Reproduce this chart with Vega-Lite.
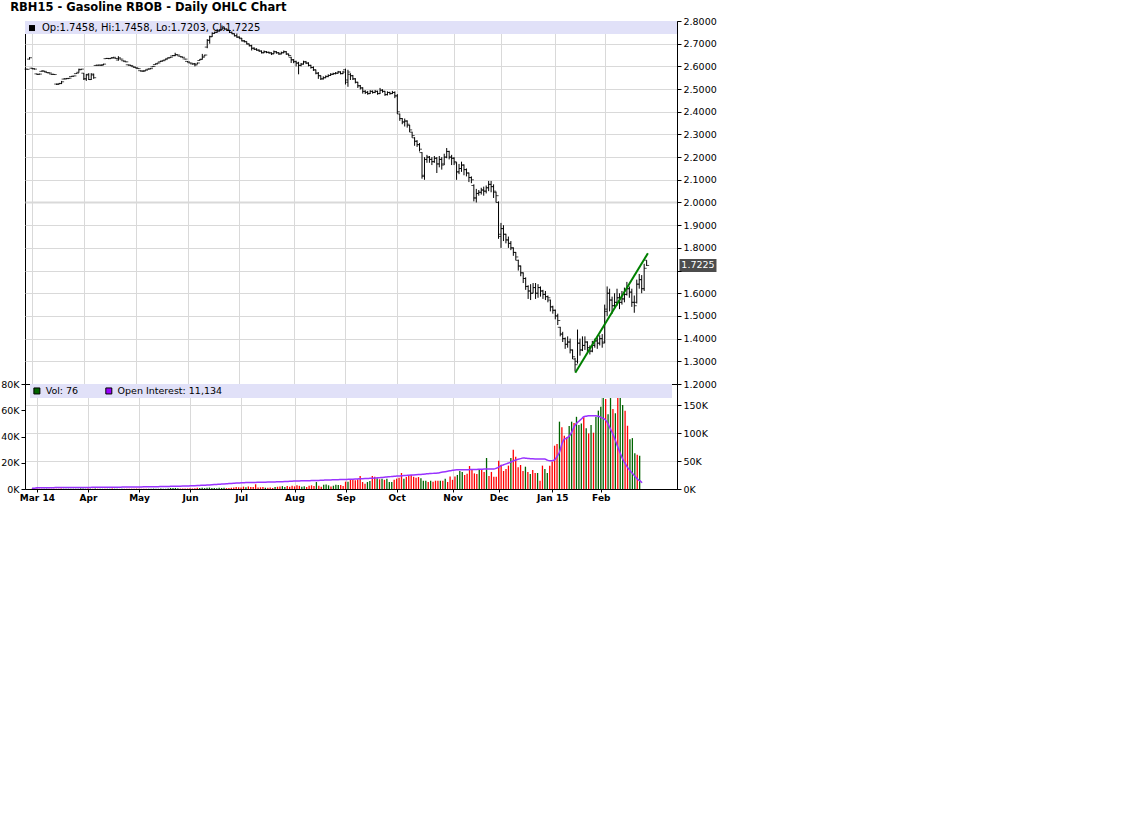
{
"$schema": "https://vega.github.io/schema/vega-lite/v6.json",
"background": "white",
"padding": {"left": 0, "top": 2, "right": 0, "bottom": 0},
"title": {"text": "RBH15 - Gasoline RBOB - Daily OHLC Chart", "anchor": "start", "font": "DejaVu Sans", "fontSize": 11.5, "fontWeight": "bold", "color": "black", "dx": 10, "offset": 2},
"spacing": 0,
"bounds": "flush",
"datasets": {
"px": [
{"t":-2,"o":2.588,"h":2.590,"l":2.585,"c":2.587,"v":200,"oi":1500,"dir":"down"},
{"t":-1,"o":2.632,"h":2.641,"l":2.630,"c":2.638,"v":150,"oi":1550,"dir":"up"},
{"t":0,"o":2.592,"h":2.594,"l":2.588,"c":2.590,"v":300,"oi":2300,"dir":"down"},
{"t":1,"o":2.589,"h":2.591,"l":2.586,"c":2.588,"v":100,"oi":2300,"dir":"down"},
{"t":2,"o":2.567,"h":2.568,"l":2.563,"c":2.565,"v":200,"oi":2350,"dir":"down"},
{"t":3,"o":2.565,"h":2.568,"l":2.564,"c":2.566,"v":150,"oi":2350,"dir":"up"},
{"t":4,"o":2.578,"h":2.582,"l":2.577,"c":2.580,"v":250,"oi":2400,"dir":"up"},
{"t":5,"o":2.579,"h":2.580,"l":2.576,"c":2.578,"v":100,"oi":2400,"dir":"down"},
{"t":6,"o":2.574,"h":2.575,"l":2.571,"c":2.572,"v":150,"oi":2450,"dir":"down"},
{"t":7,"o":2.572,"h":2.573,"l":2.569,"c":2.571,"v":100,"oi":2450,"dir":"down"},
{"t":8,"o":2.566,"h":2.567,"l":2.563,"c":2.565,"v":200,"oi":2500,"dir":"down"},
{"t":9,"o":2.565,"h":2.566,"l":2.562,"c":2.564,"v":100,"oi":2500,"dir":"down"},
{"t":10,"o":2.522,"h":2.524,"l":2.518,"c":2.520,"v":300,"oi":2550,"dir":"down"},
{"t":11,"o":2.523,"h":2.527,"l":2.521,"c":2.525,"v":200,"oi":2600,"dir":"up"},
{"t":12,"o":2.524,"h":2.536,"l":2.522,"c":2.532,"v":250,"oi":2600,"dir":"up"},
{"t":13,"o":2.544,"h":2.547,"l":2.543,"c":2.545,"v":200,"oi":2650,"dir":"up"},
{"t":14,"o":2.545,"h":2.548,"l":2.544,"c":2.546,"v":150,"oi":2650,"dir":"up"},
{"t":15,"o":2.547,"h":2.549,"l":2.545,"c":2.548,"v":100,"oi":2700,"dir":"up"},
{"t":16,"o":2.555,"h":2.557,"l":2.554,"c":2.556,"v":150,"oi":2700,"dir":"up"},
{"t":17,"o":2.557,"h":2.559,"l":2.556,"c":2.558,"v":200,"oi":2750,"dir":"up"},
{"t":18,"o":2.568,"h":2.571,"l":2.567,"c":2.570,"v":500,"oi":2800,"dir":"up"},
{"t":19,"o":2.574,"h":2.590,"l":2.572,"c":2.585,"v":300,"oi":2800,"dir":"up"},
{"t":20,"o":2.587,"h":2.589,"l":2.585,"c":2.588,"v":200,"oi":2850,"dir":"up"},
{"t":21,"o":2.570,"h":2.571,"l":2.540,"c":2.545,"v":300,"oi":2900,"dir":"down"},
{"t":22,"o":2.545,"h":2.566,"l":2.536,"c":2.562,"v":250,"oi":2900,"dir":"up"},
{"t":23,"o":2.565,"h":2.570,"l":2.540,"c":2.542,"v":200,"oi":2950,"dir":"down"},
{"t":24,"o":2.542,"h":2.570,"l":2.540,"c":2.566,"v":300,"oi":3000,"dir":"up"},
{"t":25,"o":2.562,"h":2.568,"l":2.545,"c":2.550,"v":200,"oi":3000,"dir":"down"},
{"t":26,"o":2.604,"h":2.607,"l":2.603,"c":2.605,"v":250,"oi":3050,"dir":"up"},
{"t":27,"o":2.605,"h":2.607,"l":2.604,"c":2.606,"v":150,"oi":3100,"dir":"up"},
{"t":28,"o":2.605,"h":2.606,"l":2.602,"c":2.604,"v":100,"oi":3100,"dir":"down"},
{"t":29,"o":2.608,"h":2.612,"l":2.606,"c":2.610,"v":200,"oi":3150,"dir":"up"},
{"t":30,"o":2.634,"h":2.637,"l":2.633,"c":2.635,"v":250,"oi":3200,"dir":"up"},
{"t":31,"o":2.635,"h":2.636,"l":2.632,"c":2.634,"v":300,"oi":3200,"dir":"down"},
{"t":32,"o":2.635,"h":2.638,"l":2.634,"c":2.636,"v":150,"oi":3250,"dir":"up"},
{"t":33,"o":2.639,"h":2.642,"l":2.638,"c":2.640,"v":200,"oi":3300,"dir":"up"},
{"t":34,"o":2.636,"h":2.637,"l":2.633,"c":2.635,"v":100,"oi":3300,"dir":"down"},
{"t":35,"o":2.628,"h":2.645,"l":2.625,"c":2.638,"v":250,"oi":3350,"dir":"up"},
{"t":36,"o":2.633,"h":2.634,"l":2.630,"c":2.632,"v":150,"oi":3400,"dir":"down"},
{"t":37,"o":2.625,"h":2.626,"l":2.622,"c":2.624,"v":200,"oi":3450,"dir":"down"},
{"t":38,"o":2.621,"h":2.622,"l":2.618,"c":2.620,"v":100,"oi":3500,"dir":"down"},
{"t":39,"o":2.607,"h":2.608,"l":2.604,"c":2.606,"v":200,"oi":3550,"dir":"down"},
{"t":40,"o":2.605,"h":2.606,"l":2.602,"c":2.604,"v":150,"oi":3600,"dir":"down"},
{"t":41,"o":2.599,"h":2.600,"l":2.596,"c":2.598,"v":300,"oi":3650,"dir":"down"},
{"t":42,"o":2.595,"h":2.596,"l":2.592,"c":2.594,"v":200,"oi":3700,"dir":"down"},
{"t":43,"o":2.591,"h":2.592,"l":2.588,"c":2.590,"v":150,"oi":3750,"dir":"down"},
{"t":44,"o":2.581,"h":2.582,"l":2.578,"c":2.580,"v":250,"oi":3800,"dir":"down"},
{"t":45,"o":2.579,"h":2.580,"l":2.576,"c":2.578,"v":200,"oi":3850,"dir":"down"},
{"t":46,"o":2.582,"h":2.585,"l":2.581,"c":2.583,"v":150,"oi":3900,"dir":"up"},
{"t":47,"o":2.587,"h":2.590,"l":2.586,"c":2.588,"v":200,"oi":3950,"dir":"up"},
{"t":48,"o":2.589,"h":2.592,"l":2.588,"c":2.590,"v":300,"oi":4000,"dir":"up"},
{"t":49,"o":2.598,"h":2.602,"l":2.597,"c":2.600,"v":250,"oi":4100,"dir":"up"},
{"t":50,"o":2.608,"h":2.612,"l":2.607,"c":2.610,"v":200,"oi":4200,"dir":"up"},
{"t":51,"o":2.613,"h":2.617,"l":2.612,"c":2.615,"v":300,"oi":4300,"dir":"up"},
{"t":52,"o":2.620,"h":2.624,"l":2.619,"c":2.622,"v":250,"oi":4400,"dir":"up"},
{"t":53,"o":2.624,"h":2.627,"l":2.623,"c":2.625,"v":200,"oi":4500,"dir":"up"},
{"t":54,"o":2.628,"h":2.632,"l":2.627,"c":2.630,"v":300,"oi":4600,"dir":"up"},
{"t":55,"o":2.635,"h":2.639,"l":2.634,"c":2.637,"v":800,"oi":4700,"dir":"up"},
{"t":56,"o":2.638,"h":2.642,"l":2.637,"c":2.640,"v":700,"oi":4800,"dir":"up"},
{"t":57,"o":2.646,"h":2.650,"l":2.645,"c":2.648,"v":800,"oi":4900,"dir":"up"},
{"t":58,"o":2.647,"h":2.660,"l":2.645,"c":2.652,"v":600,"oi":5000,"dir":"up"},
{"t":59,"o":2.651,"h":2.652,"l":2.648,"c":2.650,"v":400,"oi":5100,"dir":"down"},
{"t":60,"o":2.645,"h":2.646,"l":2.642,"c":2.643,"v":300,"oi":5200,"dir":"down"},
{"t":61,"o":2.641,"h":2.642,"l":2.638,"c":2.640,"v":300,"oi":5300,"dir":"down"},
{"t":62,"o":2.633,"h":2.634,"l":2.630,"c":2.632,"v":400,"oi":5400,"dir":"down"},
{"t":63,"o":2.622,"h":2.623,"l":2.618,"c":2.620,"v":500,"oi":5600,"dir":"down"},
{"t":64,"o":2.616,"h":2.617,"l":2.613,"c":2.615,"v":400,"oi":5800,"dir":"down"},
{"t":65,"o":2.611,"h":2.612,"l":2.608,"c":2.610,"v":600,"oi":6000,"dir":"down"},
{"t":66,"o":2.612,"h":2.615,"l":2.600,"c":2.606,"v":900,"oi":6200,"dir":"down"},
{"t":67,"o":2.610,"h":2.617,"l":2.609,"c":2.615,"v":800,"oi":6400,"dir":"up"},
{"t":68,"o":2.626,"h":2.632,"l":2.625,"c":2.630,"v":1000,"oi":6600,"dir":"up"},
{"t":69,"o":2.632,"h":2.655,"l":2.630,"c":2.640,"v":700,"oi":6800,"dir":"up"},
{"t":70,"o":2.645,"h":2.652,"l":2.644,"c":2.650,"v":900,"oi":7000,"dir":"up"},
{"t":71,"o":2.685,"h":2.720,"l":2.680,"c":2.715,"v":1100,"oi":7300,"dir":"up"},
{"t":72,"o":2.715,"h":2.735,"l":2.700,"c":2.730,"v":800,"oi":7600,"dir":"up"},
{"t":73,"o":2.732,"h":2.750,"l":2.730,"c":2.745,"v":700,"oi":7900,"dir":"up"},
{"t":74,"o":2.746,"h":2.753,"l":2.744,"c":2.750,"v":600,"oi":8200,"dir":"up"},
{"t":75,"o":2.750,"h":2.765,"l":2.748,"c":2.755,"v":900,"oi":8500,"dir":"up"},
{"t":76,"o":2.757,"h":2.763,"l":2.754,"c":2.760,"v":800,"oi":8800,"dir":"up"},
{"t":77,"o":2.762,"h":2.780,"l":2.760,"c":2.770,"v":1000,"oi":9100,"dir":"up"},
{"t":78,"o":2.768,"h":2.772,"l":2.762,"c":2.765,"v":700,"oi":9400,"dir":"down"},
{"t":79,"o":2.764,"h":2.766,"l":2.756,"c":2.760,"v":800,"oi":9700,"dir":"down"},
{"t":80,"o":2.758,"h":2.760,"l":2.747,"c":2.750,"v":900,"oi":10000,"dir":"down"},
{"t":81,"o":2.750,"h":2.753,"l":2.742,"c":2.745,"v":1200,"oi":10300,"dir":"down"},
{"t":82,"o":2.743,"h":2.745,"l":2.732,"c":2.735,"v":1500,"oi":10600,"dir":"down"},
{"t":83,"o":2.735,"h":2.745,"l":2.726,"c":2.730,"v":1300,"oi":10800,"dir":"down"},
{"t":84,"o":2.728,"h":2.732,"l":2.722,"c":2.725,"v":1100,"oi":11000,"dir":"down"},
{"t":85,"o":2.722,"h":2.725,"l":2.710,"c":2.712,"v":1800,"oi":11200,"dir":"down"},
{"t":86,"o":2.713,"h":2.716,"l":2.706,"c":2.710,"v":1400,"oi":11400,"dir":"up"},
{"t":87,"o":2.708,"h":2.710,"l":2.697,"c":2.700,"v":2000,"oi":11500,"dir":"down"},
{"t":88,"o":2.698,"h":2.700,"l":2.688,"c":2.690,"v":1500,"oi":11600,"dir":"down"},
{"t":89,"o":2.692,"h":2.695,"l":2.670,"c":2.680,"v":1600,"oi":11700,"dir":"down"},
{"t":90,"o":2.680,"h":2.684,"l":2.672,"c":2.675,"v":3600,"oi":11800,"dir":"down"},
{"t":91,"o":2.676,"h":2.680,"l":2.669,"c":2.672,"v":1200,"oi":11900,"dir":"down"},
{"t":92,"o":2.671,"h":2.675,"l":2.664,"c":2.668,"v":1300,"oi":12000,"dir":"down"},
{"t":93,"o":2.667,"h":2.670,"l":2.657,"c":2.660,"v":1500,"oi":12100,"dir":"down"},
{"t":94,"o":2.660,"h":2.670,"l":2.658,"c":2.665,"v":1000,"oi":12200,"dir":"up"},
{"t":95,"o":2.664,"h":2.667,"l":2.658,"c":2.662,"v":900,"oi":12300,"dir":"down"},
{"t":96,"o":2.662,"h":2.665,"l":2.656,"c":2.660,"v":1200,"oi":12400,"dir":"down"},
{"t":97,"o":2.659,"h":2.662,"l":2.650,"c":2.655,"v":800,"oi":12500,"dir":"down"},
{"t":98,"o":2.656,"h":2.670,"l":2.654,"c":2.665,"v":1500,"oi":12700,"dir":"up"},
{"t":99,"o":2.664,"h":2.667,"l":2.656,"c":2.660,"v":1700,"oi":12800,"dir":"down"},
{"t":100,"o":2.660,"h":2.663,"l":2.651,"c":2.655,"v":2000,"oi":12900,"dir":"down"},
{"t":101,"o":2.655,"h":2.665,"l":2.653,"c":2.660,"v":2200,"oi":13100,"dir":"up"},
{"t":102,"o":2.660,"h":2.670,"l":2.658,"c":2.665,"v":1500,"oi":13300,"dir":"up"},
{"t":103,"o":2.664,"h":2.667,"l":2.651,"c":2.655,"v":2300,"oi":13500,"dir":"down"},
{"t":104,"o":2.654,"h":2.656,"l":2.644,"c":2.648,"v":1800,"oi":13700,"dir":"down"},
{"t":105,"o":2.640,"h":2.642,"l":2.615,"c":2.630,"v":2500,"oi":14000,"dir":"down"},
{"t":106,"o":2.628,"h":2.632,"l":2.614,"c":2.620,"v":2000,"oi":14200,"dir":"down"},
{"t":107,"o":2.622,"h":2.625,"l":2.600,"c":2.615,"v":2800,"oi":14400,"dir":"down"},
{"t":108,"o":2.614,"h":2.620,"l":2.565,"c":2.605,"v":2400,"oi":14500,"dir":"down"},
{"t":109,"o":2.604,"h":2.615,"l":2.600,"c":2.610,"v":1800,"oi":14600,"dir":"up"},
{"t":110,"o":2.610,"h":2.625,"l":2.608,"c":2.620,"v":2100,"oi":14700,"dir":"up"},
{"t":111,"o":2.620,"h":2.624,"l":2.610,"c":2.615,"v":1600,"oi":14800,"dir":"down"},
{"t":112,"o":2.614,"h":2.618,"l":2.600,"c":2.605,"v":2500,"oi":14900,"dir":"down"},
{"t":113,"o":2.604,"h":2.607,"l":2.590,"c":2.595,"v":2800,"oi":15000,"dir":"down"},
{"t":114,"o":2.595,"h":2.600,"l":2.580,"c":2.585,"v":2200,"oi":15200,"dir":"down"},
{"t":115,"o":2.584,"h":2.586,"l":2.565,"c":2.570,"v":5300,"oi":15300,"dir":"up"},
{"t":116,"o":2.570,"h":2.575,"l":2.545,"c":2.560,"v":2500,"oi":15400,"dir":"down"},
{"t":117,"o":2.558,"h":2.560,"l":2.540,"c":2.545,"v":1800,"oi":15600,"dir":"down"},
{"t":118,"o":2.545,"h":2.556,"l":2.542,"c":2.550,"v":3200,"oi":15800,"dir":"up"},
{"t":119,"o":2.550,"h":2.560,"l":2.548,"c":2.555,"v":3500,"oi":16000,"dir":"up"},
{"t":120,"o":2.556,"h":2.565,"l":2.552,"c":2.560,"v":2800,"oi":16100,"dir":"up"},
{"t":121,"o":2.560,"h":2.570,"l":2.558,"c":2.565,"v":2000,"oi":16200,"dir":"down"},
{"t":122,"o":2.565,"h":2.572,"l":2.562,"c":2.568,"v":2500,"oi":16400,"dir":"up"},
{"t":123,"o":2.568,"h":2.575,"l":2.565,"c":2.570,"v":3200,"oi":16500,"dir":"up"},
{"t":124,"o":2.570,"h":2.580,"l":2.568,"c":2.575,"v":3000,"oi":16700,"dir":"up"},
{"t":125,"o":2.576,"h":2.578,"l":2.565,"c":2.568,"v":3000,"oi":16800,"dir":"down"},
{"t":126,"o":2.568,"h":2.580,"l":2.566,"c":2.575,"v":2300,"oi":16900,"dir":"down"},
{"t":127,"o":2.585,"h":2.590,"l":2.520,"c":2.530,"v":5600,"oi":17000,"dir":"down"},
{"t":128,"o":2.540,"h":2.585,"l":2.510,"c":2.575,"v":5600,"oi":17200,"dir":"up"},
{"t":129,"o":2.565,"h":2.570,"l":2.540,"c":2.560,"v":7400,"oi":17400,"dir":"down"},
{"t":130,"o":2.558,"h":2.562,"l":2.540,"c":2.545,"v":7400,"oi":17600,"dir":"down"},
{"t":131,"o":2.545,"h":2.548,"l":2.525,"c":2.530,"v":6600,"oi":17800,"dir":"down"},
{"t":132,"o":2.530,"h":2.532,"l":2.505,"c":2.515,"v":7400,"oi":18000,"dir":"down"},
{"t":133,"o":2.514,"h":2.518,"l":2.498,"c":2.505,"v":9900,"oi":18200,"dir":"down"},
{"t":134,"o":2.505,"h":2.508,"l":2.480,"c":2.490,"v":5300,"oi":18400,"dir":"down"},
{"t":135,"o":2.490,"h":2.495,"l":2.478,"c":2.485,"v":4000,"oi":18600,"dir":"down"},
{"t":136,"o":2.486,"h":2.492,"l":2.475,"c":2.480,"v":5300,"oi":18800,"dir":"up"},
{"t":137,"o":2.480,"h":2.495,"l":2.478,"c":2.490,"v":6100,"oi":19000,"dir":"up"},
{"t":138,"o":2.490,"h":2.494,"l":2.480,"c":2.485,"v":9900,"oi":19200,"dir":"down"},
{"t":139,"o":2.485,"h":2.496,"l":2.482,"c":2.490,"v":9300,"oi":19500,"dir":"down"},
{"t":140,"o":2.490,"h":2.493,"l":2.475,"c":2.480,"v":8100,"oi":19900,"dir":"up"},
{"t":141,"o":2.480,"h":2.505,"l":2.478,"c":2.495,"v":7400,"oi":20300,"dir":"down"},
{"t":142,"o":2.495,"h":2.499,"l":2.484,"c":2.490,"v":7900,"oi":20700,"dir":"up"},
{"t":143,"o":2.490,"h":2.492,"l":2.470,"c":2.475,"v":7000,"oi":21100,"dir":"down"},
{"t":144,"o":2.476,"h":2.490,"l":2.472,"c":2.485,"v":7900,"oi":21500,"dir":"up"},
{"t":145,"o":2.485,"h":2.488,"l":2.475,"c":2.480,"v":5300,"oi":21900,"dir":"up"},
{"t":146,"o":2.480,"h":2.492,"l":2.478,"c":2.485,"v":5300,"oi":22300,"dir":"up"},
{"t":147,"o":2.485,"h":2.490,"l":2.460,"c":2.470,"v":7000,"oi":22700,"dir":"down"},
{"t":148,"o":2.470,"h":2.478,"l":2.390,"c":2.400,"v":7900,"oi":23000,"dir":"down"},
{"t":149,"o":2.390,"h":2.392,"l":2.360,"c":2.370,"v":8600,"oi":23300,"dir":"down"},
{"t":150,"o":2.370,"h":2.372,"l":2.345,"c":2.355,"v":12200,"oi":23600,"dir":"down"},
{"t":151,"o":2.355,"h":2.370,"l":2.335,"c":2.360,"v":7900,"oi":24000,"dir":"up"},
{"t":152,"o":2.358,"h":2.362,"l":2.330,"c":2.345,"v":9100,"oi":24300,"dir":"down"},
{"t":153,"o":2.340,"h":2.342,"l":2.310,"c":2.320,"v":9900,"oi":24600,"dir":"down"},
{"t":154,"o":2.310,"h":2.312,"l":2.285,"c":2.295,"v":10700,"oi":24900,"dir":"down"},
{"t":155,"o":2.285,"h":2.288,"l":2.250,"c":2.270,"v":9300,"oi":25200,"dir":"down"},
{"t":156,"o":2.270,"h":2.275,"l":2.245,"c":2.255,"v":8600,"oi":25500,"dir":"down"},
{"t":157,"o":2.255,"h":2.262,"l":2.225,"c":2.235,"v":9100,"oi":25800,"dir":"down"},
{"t":158,"o":2.220,"h":2.222,"l":2.105,"c":2.120,"v":8100,"oi":26100,"dir":"up"},
{"t":159,"o":2.115,"h":2.200,"l":2.100,"c":2.190,"v":6300,"oi":26500,"dir":"up"},
{"t":160,"o":2.190,"h":2.210,"l":2.175,"c":2.200,"v":6300,"oi":26900,"dir":"up"},
{"t":161,"o":2.200,"h":2.205,"l":2.175,"c":2.190,"v":5300,"oi":27300,"dir":"down"},
{"t":162,"o":2.190,"h":2.200,"l":2.165,"c":2.180,"v":6300,"oi":27600,"dir":"up"},
{"t":163,"o":2.180,"h":2.205,"l":2.175,"c":2.195,"v":5600,"oi":27900,"dir":"down"},
{"t":164,"o":2.195,"h":2.200,"l":2.130,"c":2.170,"v":6300,"oi":28200,"dir":"down"},
{"t":165,"o":2.170,"h":2.205,"l":2.155,"c":2.190,"v":6300,"oi":28600,"dir":"down"},
{"t":166,"o":2.190,"h":2.200,"l":2.145,"c":2.165,"v":6300,"oi":29400,"dir":"up"},
{"t":167,"o":2.170,"h":2.215,"l":2.165,"c":2.200,"v":6300,"oi":30200,"dir":"down"},
{"t":168,"o":2.200,"h":2.240,"l":2.195,"c":2.225,"v":7900,"oi":31000,"dir":"up"},
{"t":169,"o":2.225,"h":2.228,"l":2.190,"c":2.200,"v":5300,"oi":31800,"dir":"down"},
{"t":170,"o":2.200,"h":2.210,"l":2.165,"c":2.195,"v":9600,"oi":32600,"dir":"down"},
{"t":171,"o":2.195,"h":2.200,"l":2.165,"c":2.180,"v":7000,"oi":33300,"dir":"down"},
{"t":172,"o":2.175,"h":2.178,"l":2.100,"c":2.135,"v":9600,"oi":34000,"dir":"down"},
{"t":173,"o":2.135,"h":2.170,"l":2.125,"c":2.150,"v":10700,"oi":34200,"dir":"up"},
{"t":174,"o":2.150,"h":2.180,"l":2.135,"c":2.165,"v":13700,"oi":34300,"dir":"up"},
{"t":175,"o":2.165,"h":2.168,"l":2.120,"c":2.145,"v":12900,"oi":34400,"dir":"up"},
{"t":176,"o":2.145,"h":2.150,"l":2.115,"c":2.130,"v":10700,"oi":34500,"dir":"down"},
{"t":177,"o":2.130,"h":2.132,"l":2.090,"c":2.110,"v":11700,"oi":34500,"dir":"down"},
{"t":178,"o":2.110,"h":2.115,"l":2.085,"c":2.100,"v":17500,"oi":34600,"dir":"down"},
{"t":179,"o":2.075,"h":2.080,"l":2.005,"c":2.020,"v":14700,"oi":34700,"dir":"down"},
{"t":180,"o":2.020,"h":2.060,"l":2.000,"c":2.040,"v":11900,"oi":34800,"dir":"down"},
{"t":181,"o":2.040,"h":2.055,"l":2.030,"c":2.045,"v":11400,"oi":35000,"dir":"down"},
{"t":182,"o":2.045,"h":2.065,"l":2.035,"c":2.055,"v":15200,"oi":35200,"dir":"up"},
{"t":183,"o":2.055,"h":2.070,"l":2.030,"c":2.050,"v":14500,"oi":35400,"dir":"down"},
{"t":184,"o":2.050,"h":2.075,"l":2.040,"c":2.065,"v":13000,"oi":35600,"dir":"down"},
{"t":185,"o":2.065,"h":2.095,"l":2.050,"c":2.080,"v":23600,"oi":35700,"dir":"up"},
{"t":186,"o":2.080,"h":2.095,"l":2.045,"c":2.070,"v":10000,"oi":35700,"dir":"down"},
{"t":187,"o":2.070,"h":2.080,"l":2.020,"c":2.050,"v":13000,"oi":35700,"dir":"down"},
{"t":188,"o":2.045,"h":2.048,"l":2.000,"c":2.030,"v":9400,"oi":35800,"dir":"down"},
{"t":189,"o":2.000,"h":2.005,"l":1.840,"c":1.850,"v":9400,"oi":37000,"dir":"down"},
{"t":190,"o":1.860,"h":1.910,"l":1.800,"c":1.885,"v":21600,"oi":39000,"dir":"down"},
{"t":191,"o":1.885,"h":1.900,"l":1.830,"c":1.860,"v":18500,"oi":41600,"dir":"down"},
{"t":192,"o":1.860,"h":1.862,"l":1.820,"c":1.835,"v":13700,"oi":43200,"dir":"down"},
{"t":193,"o":1.835,"h":1.850,"l":1.800,"c":1.820,"v":15200,"oi":44800,"dir":"down"},
{"t":194,"o":1.820,"h":1.830,"l":1.790,"c":1.800,"v":17800,"oi":46400,"dir":"down"},
{"t":195,"o":1.800,"h":1.802,"l":1.765,"c":1.780,"v":23600,"oi":48200,"dir":"up"},
{"t":196,"o":1.780,"h":1.782,"l":1.745,"c":1.760,"v":30000,"oi":50000,"dir":"down"},
{"t":197,"o":1.745,"h":1.748,"l":1.700,"c":1.720,"v":24600,"oi":51800,"dir":"down"},
{"t":198,"o":1.720,"h":1.722,"l":1.675,"c":1.690,"v":16500,"oi":53000,"dir":"down"},
{"t":199,"o":1.690,"h":1.692,"l":1.645,"c":1.665,"v":18300,"oi":54200,"dir":"down"},
{"t":200,"o":1.665,"h":1.670,"l":1.615,"c":1.630,"v":13700,"oi":55400,"dir":"down"},
{"t":201,"o":1.630,"h":1.635,"l":1.575,"c":1.610,"v":17000,"oi":55000,"dir":"up"},
{"t":202,"o":1.610,"h":1.640,"l":1.570,"c":1.600,"v":13000,"oi":54600,"dir":"down"},
{"t":203,"o":1.600,"h":1.645,"l":1.600,"c":1.625,"v":11400,"oi":54200,"dir":"up"},
{"t":204,"o":1.625,"h":1.645,"l":1.575,"c":1.600,"v":14500,"oi":53800,"dir":"down"},
{"t":205,"o":1.600,"h":1.640,"l":1.580,"c":1.625,"v":12200,"oi":53600,"dir":"down"},
{"t":206,"o":1.625,"h":1.630,"l":1.585,"c":1.610,"v":12200,"oi":53600,"dir":"up"},
{"t":207,"o":1.610,"h":1.615,"l":1.575,"c":1.595,"v":6300,"oi":53600,"dir":"down"},
{"t":208,"o":1.595,"h":1.610,"l":1.570,"c":1.585,"v":17800,"oi":53600,"dir":"down"},
{"t":209,"o":1.585,"h":1.590,"l":1.560,"c":1.580,"v":15200,"oi":53600,"dir":"up"},
{"t":210,"o":1.570,"h":1.572,"l":1.520,"c":1.540,"v":12200,"oi":51500,"dir":"up"},
{"t":211,"o":1.540,"h":1.545,"l":1.510,"c":1.525,"v":17800,"oi":50500,"dir":"down"},
{"t":212,"o":1.525,"h":1.528,"l":1.485,"c":1.500,"v":21000,"oi":50500,"dir":"down"},
{"t":213,"o":1.500,"h":1.510,"l":1.460,"c":1.480,"v":33000,"oi":52000,"dir":"down"},
{"t":214,"o":1.450,"h":1.452,"l":1.410,"c":1.420,"v":34300,"oi":58000,"dir":"down"},
{"t":215,"o":1.420,"h":1.430,"l":1.385,"c":1.400,"v":51300,"oi":65500,"dir":"up"},
{"t":216,"o":1.400,"h":1.405,"l":1.355,"c":1.375,"v":47000,"oi":80400,"dir":"down"},
{"t":217,"o":1.375,"h":1.410,"l":1.360,"c":1.385,"v":40600,"oi":89000,"dir":"down"},
{"t":218,"o":1.385,"h":1.400,"l":1.335,"c":1.350,"v":39400,"oi":91000,"dir":"down"},
{"t":219,"o":1.350,"h":1.352,"l":1.310,"c":1.320,"v":48000,"oi":94000,"dir":"up"},
{"t":220,"o":1.310,"h":1.315,"l":1.255,"c":1.285,"v":51300,"oi":101000,"dir":"up"},
{"t":221,"o":1.300,"h":1.440,"l":1.290,"c":1.380,"v":50300,"oi":111000,"dir":"down"},
{"t":222,"o":1.380,"h":1.400,"l":1.325,"c":1.350,"v":55000,"oi":117000,"dir":"up"},
{"t":223,"o":1.350,"h":1.410,"l":1.345,"c":1.370,"v":48800,"oi":121000,"dir":"up"},
{"t":224,"o":1.370,"h":1.410,"l":1.350,"c":1.385,"v":50000,"oi":125000,"dir":"up"},
{"t":225,"o":1.385,"h":1.388,"l":1.340,"c":1.360,"v":54600,"oi":129000,"dir":"down"},
{"t":226,"o":1.360,"h":1.370,"l":1.330,"c":1.345,"v":46200,"oi":130000,"dir":"up"},
{"t":227,"o":1.345,"h":1.390,"l":1.340,"c":1.370,"v":42400,"oi":131000,"dir":"down"},
{"t":228,"o":1.370,"h":1.400,"l":1.360,"c":1.390,"v":48800,"oi":131000,"dir":"up"},
{"t":229,"o":1.390,"h":1.405,"l":1.355,"c":1.380,"v":42900,"oi":131000,"dir":"down"},
{"t":230,"o":1.380,"h":1.415,"l":1.370,"c":1.400,"v":55000,"oi":131000,"dir":"up"},
{"t":231,"o":1.400,"h":1.420,"l":1.360,"c":1.380,"v":59700,"oi":130000,"dir":"up"},
{"t":232,"o":1.385,"h":1.550,"l":1.380,"c":1.530,"v":62700,"oi":128000,"dir":"up"},
{"t":233,"o":1.520,"h":1.630,"l":1.500,"c":1.600,"v":69300,"oi":126000,"dir":"up"},
{"t":234,"o":1.600,"h":1.620,"l":1.520,"c":1.570,"v":68600,"oi":123000,"dir":"down"},
{"t":235,"o":1.570,"h":1.585,"l":1.510,"c":1.545,"v":57000,"oi":116000,"dir":"up"},
{"t":236,"o":1.545,"h":1.600,"l":1.530,"c":1.560,"v":69300,"oi":107000,"dir":"up"},
{"t":237,"o":1.560,"h":1.620,"l":1.545,"c":1.580,"v":61000,"oi":98000,"dir":"down"},
{"t":238,"o":1.580,"h":1.600,"l":1.530,"c":1.560,"v":57700,"oi":87000,"dir":"up"},
{"t":239,"o":1.560,"h":1.610,"l":1.550,"c":1.575,"v":69300,"oi":75000,"dir":"down"},
{"t":240,"o":1.575,"h":1.625,"l":1.560,"c":1.595,"v":69300,"oi":64000,"dir":"up"},
{"t":241,"o":1.595,"h":1.650,"l":1.590,"c":1.620,"v":64000,"oi":53600,"dir":"up"},
{"t":242,"o":1.620,"h":1.630,"l":1.580,"c":1.605,"v":59700,"oi":46000,"dir":"down"},
{"t":243,"o":1.605,"h":1.620,"l":1.540,"c":1.560,"v":48200,"oi":38700,"dir":"down"},
{"t":244,"o":1.560,"h":1.590,"l":1.514,"c":1.545,"v":38000,"oi":33000,"dir":"up"},
{"t":245,"o":1.560,"h":1.660,"l":1.555,"c":1.640,"v":38800,"oi":28000,"dir":"up"},
{"t":246,"o":1.640,"h":1.685,"l":1.620,"c":1.660,"v":27200,"oi":23000,"dir":"up"},
{"t":247,"o":1.660,"h":1.680,"l":1.600,"c":1.620,"v":26100,"oi":18000,"dir":"down"},
{"t":248,"o":1.620,"h":1.730,"l":1.610,"c":1.710,"v":25400,"oi":14800,"dir":"up"},
{"t":249,"o":1.7458,"h":1.7458,"l":1.7203,"c":1.7225,"v":76,"oi":11134,"dir":"up"}
],
"trend": [{"t":220.1,"p":1.250},{"t":249.5,"p":1.776}],
"lastpx": [{"p":1.7225,"label":"1.7225"}],
"toplegend": [{"label":"Op:1.7458, Hi:1.7458, Lo:1.7203, Cl:1.7225"}],
"vollegend": [{"label":"Vol: 76"}],
"oilegend": [{"label":"Open Interest: 11,134"}]
},
"vconcat": [
{
"width": 652, "height": 363,
"layer": [
{"data": {"name": "toplegend"}, "mark": {"type": "rect", "color": "#e1e1f8"},
 "encoding": {"x": {"datum": -2.83, "type": "quantitative"}, "x2": {"datum": 261.3}, "y": {"datum": 2.8, "type": "quantitative"}, "y2": {"datum": 2.743}}},
{"data": {"name": "toplegend"}, "mark": {"type": "point", "shape": "square", "filled": true, "color": "black", "size": 36, "opacity": 1},
 "encoding": {"x": {"datum": 0, "type": "quantitative"}, "y": {"datum": 2.769, "type": "quantitative"}}},
{"data": {"name": "toplegend"}, "mark": {"type": "text", "align": "left", "baseline": "middle", "font": "DejaVu Sans", "fontSize": 10, "color": "black"},
 "encoding": {"x": {"datum": 4.05, "type": "quantitative"}, "y": {"datum": 2.769, "type": "quantitative"}, "text": {"field": "label"}}},
{"data": {"name": "px"}, "mark": {"type": "rule", "color": "black", "strokeWidth": 1},
 "encoding": {
  "x": {"field": "t", "type": "quantitative", "scale": {"domain": [-2.83, 261.3], "nice": false, "zero": false},
        "axis": {"values": [0,21,42,63,84,106,127,148,171,190,212,232], "tickCount": 30, "labels": false, "ticks": false, "domain": false, "grid": true, "title": null}},
  "y": {"field": "l", "type": "quantitative", "scale": {"domain": [1.2, 2.8], "nice": false, "zero": false},
        "axis": {"orient": "right", "values": [1.2,1.3,1.4,1.5,1.6,1.7,1.8,1.9,2.0,2.1,2.2,2.3,2.4,2.5,2.6,2.7,2.8], "tickCount": 30, "grid": true, "title": null, "labelOverlap": false,
                 "labelExpr": "abs(datum.value - 1.7) < 0.001 ? '' : format(datum.value, '.4f')",
                 "gridWidth": {"condition": {"test": "abs(datum.value - 2) < 0.001", "value": 2}, "value": 1}}},
  "y2": {"field": "h"}}},
{"data": {"name": "px"}, "mark": {"type": "tick", "orient": "horizontal", "color": "black", "size": 2.5, "thickness": 1, "xOffset": -1.25},
 "encoding": {"x": {"field": "t", "type": "quantitative"}, "y": {"field": "o", "type": "quantitative"}}},
{"data": {"name": "px"}, "mark": {"type": "tick", "orient": "horizontal", "color": "black", "size": 2.5, "thickness": 1, "xOffset": 1.25},
 "encoding": {"x": {"field": "t", "type": "quantitative"}, "y": {"field": "c", "type": "quantitative"}}},
{"data": {"name": "trend"}, "mark": {"type": "line", "color": "#008000", "strokeWidth": 2},
 "encoding": {"x": {"field": "t", "type": "quantitative"}, "y": {"field": "p", "type": "quantitative"}}},
{"data": {"name": "lastpx"}, "mark": {"type": "tick", "orient": "horizontal", "color": "black", "size": 37, "thickness": 13},
 "encoding": {"x": {"datum": 269.8, "type": "quantitative"}, "y": {"field": "p", "type": "quantitative"}}},
{"data": {"name": "lastpx"}, "mark": {"type": "text", "align": "center", "baseline": "middle", "font": "DejaVu Sans", "fontSize": 9.5, "color": "white"},
 "encoding": {"x": {"datum": 269.8, "type": "quantitative"}, "y": {"field": "p", "type": "quantitative"}, "text": {"field": "label"}}}
]
},
{
"width": 652, "height": 105,
"layer": [
{"data": {"name": "px"}, "mark": {"type": "bar", "width": 1.3},
 "encoding": {
  "x": {"field": "t", "type": "quantitative", "scale": {"domain": [-2.83, 261.3], "nice": false, "zero": false},
        "axis": {"values": [0,21,42,63,84,106,127,148,171,190,212,232], "tickCount": 30, "grid": true, "title": null, "tickSize": 3, "labelFontWeight": "bold", "labelFontSize": 9, "labelFlush": false, "labelOverlap": false, "labelPadding": 1,
                 "labelExpr": "datum.value == 0 ? 'Mar 14' : datum.value == 21 ? 'Apr' : datum.value == 42 ? 'May' : datum.value == 63 ? 'Jun' : datum.value == 84 ? 'Jul' : datum.value == 106 ? 'Aug' : datum.value == 127 ? 'Sep' : datum.value == 148 ? 'Oct' : datum.value == 171 ? 'Nov' : datum.value == 190 ? 'Dec' : datum.value == 212 ? 'Jan 15' : 'Feb'"}},
  "y": {"field": "v", "type": "quantitative", "scale": {"domain": [0, 80000], "nice": false},
        "axis": {"orient": "left", "values": [0,20000,40000,60000,80000], "tickCount": 10, "grid": false, "title": null, "labelOverlap": false, "labelExpr": "(datum.value/1000) + 'K'"}},
  "color": {"field": "dir", "type": "nominal", "scale": {"domain": ["up","down"], "range": ["#006400","#ff0000"]}, "legend": null}}},
{"data": {"name": "px"}, "mark": {"type": "line", "color": "#9933ff", "strokeWidth": 1.5, "interpolate": "monotone"},
 "encoding": {
  "x": {"field": "t", "type": "quantitative"},
  "y": {"field": "oi", "type": "quantitative", "scale": {"domain": [0, 187500], "nice": false},
        "axis": {"orient": "right", "values": [0,50000,100000,150000], "tickCount": 10, "grid": true, "title": null, "labelOverlap": false, "labelExpr": "(datum.value/1000) + 'K'"}}}},
{"layer": [
 {"data": {"name": "vollegend"}, "mark": {"type": "rect", "color": "#e1e1f8"},
  "encoding": {"x": {"datum": -2.83, "type": "quantitative"}, "x2": {"datum": 261.3}, "y": {"datum": 80000, "type": "quantitative", "scale": {"domain": [0, 80000], "nice": false}, "axis": null}, "y2": {"datum": 69300}}},
 {"data": {"name": "vollegend"}, "mark": {"type": "point", "shape": "square", "filled": true, "color": "#006400", "stroke": "black", "strokeWidth": 1, "size": 36, "opacity": 1},
  "encoding": {"x": {"datum": 0, "type": "quantitative"}, "y": {"datum": 74700, "type": "quantitative"}}},
 {"data": {"name": "vollegend"}, "mark": {"type": "text", "align": "left", "baseline": "middle", "font": "DejaVu Sans", "fontSize": 9.5, "color": "black"},
  "encoding": {"x": {"datum": 3.6, "type": "quantitative"}, "y": {"datum": 74700, "type": "quantitative"}, "text": {"field": "label"}}},
 {"data": {"name": "oilegend"}, "mark": {"type": "point", "shape": "square", "filled": true, "color": "#9900ff", "stroke": "black", "strokeWidth": 1, "size": 36, "opacity": 1},
  "encoding": {"x": {"datum": 29.6, "type": "quantitative"}, "y": {"datum": 74700, "type": "quantitative"}}},
 {"data": {"name": "oilegend"}, "mark": {"type": "text", "align": "left", "baseline": "middle", "font": "DejaVu Sans", "fontSize": 9.5, "color": "black"},
  "encoding": {"x": {"datum": 33.2, "type": "quantitative"}, "y": {"datum": 74700, "type": "quantitative"}, "text": {"field": "label"}}}
]}
],
"resolve": {"scale": {"y": "independent"}, "axis": {"y": "independent"}}
}
],
"config": {
 "view": {"stroke": "black", "strokeWidth": 1},
 "font": "DejaVu Sans",
 "axis": {"domainColor": "black", "tickColor": "black", "labelColor": "black", "gridColor": "#d9d9d9", "labelFont": "DejaVu Sans", "labelFontSize": 9.5, "tickSize": 4, "labelPadding": 2}
}
}
